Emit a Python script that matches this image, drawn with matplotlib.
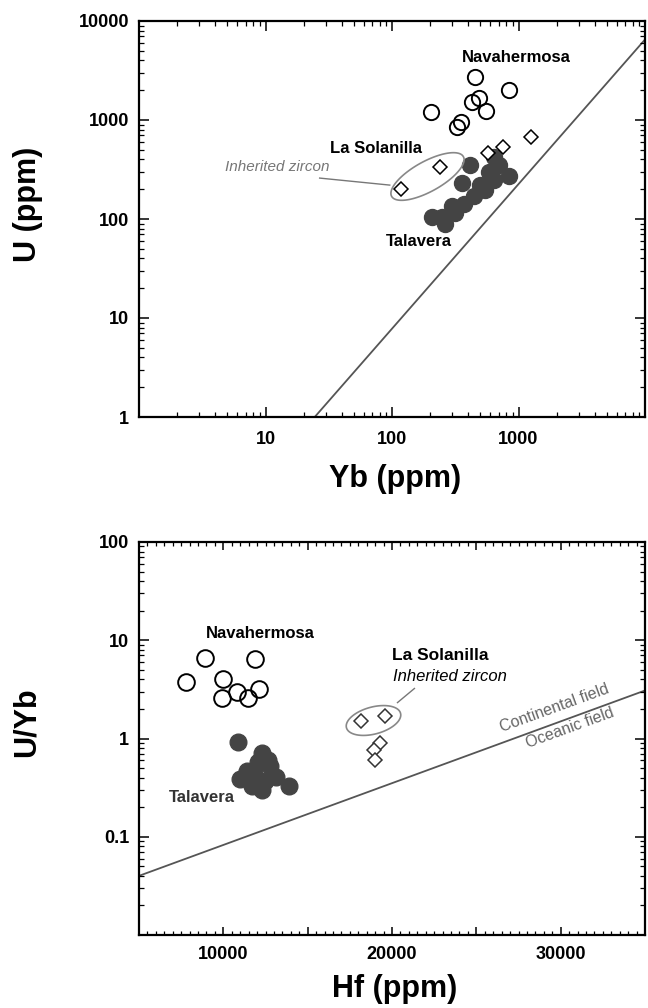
import numpy as np
import matplotlib
matplotlib.use("Agg")
import matplotlib.pyplot as plt
from matplotlib.path import Path
from matplotlib.ticker import FixedLocator, FixedFormatter, LogLocator, MultipleLocator, FuncFormatter, NullFormatter

plt.rcParams["font.family"] = ["Liberation Sans", "DejaVu Sans"]

# ---- top panel: U vs Yb (ppm) ----
nava_yb = [456, 848, 204, 432, 490, 557, 353, 328]
nava_u = [2720, 2010, 1205, 1520, 1667, 1233, 955, 849]

tala_yb = [416, 645, 707, 848, 589, 359, 499, 645, 448, 373, 299, 316, 249, 207, 264, 547]
tala_u = [351, 423, 351, 272, 298, 231, 220, 248, 171, 142, 135, 115, 105, 105, 89, 196]

sola_yb = [1245, 760, 578, 240, 118]
sola_u = [673, 533, 464, 335, 201]

line_yb = [24.5, 10000]
line_u = [1, 6500]

inh_center_top = (190, 272)
leader_top_yb = [26.8, 96]
leader_top_u = [259, 220]

# ---- bottom panel: U/Yb vs Hf (ppm) ----
nava_hf = [8905, 11864, 7781, 9970, 12100, 10800, 9911, 11450]
nava_uyb = [6.67, 6.5, 3.8, 4.0, 3.2, 3.0, 2.6, 2.6]

tala_hf = [10858, 12280, 12040, 12750, 13100, 11390, 10980, 11690, 12280, 12450, 13880, 11800, 12630]
tala_uyb = [0.93, 0.72, 0.57, 0.52, 0.41, 0.47, 0.39, 0.33, 0.30, 0.37, 0.33, 0.47, 0.60]

sola_hf = [18180, 19560, 19260, 18960, 19020]
sola_uyb = [1.52, 1.71, 0.89, 0.76, 0.60]

line_hf = [5000, 35000]
line_uyb = [0.040, 3.08]

inh_center_bot = (18846, 1.56)
leader_bot_hf = [20325, 21330]
leader_bot_uyb = [2.32, 3.23]


def ellipse_marker(long_px, short_px, angle_deg):
    t = np.linspace(0, 2 * np.pi, 120)
    a, b = long_px / 2, short_px / 2
    ang = np.deg2rad(angle_deg)
    x = a * np.cos(t) * np.cos(ang) - b * np.sin(t) * np.sin(ang)
    y = a * np.cos(t) * np.sin(ang) + b * np.sin(t) * np.cos(ang)
    verts = np.column_stack([x, y])
    ms = 2 * np.abs(verts).max() * 0.72
    return Path(verts), ms


def style_axes(ax):
    for s in ax.spines.values():
        s.set_linewidth(1.6)
    ax.tick_params(which="both", direction="in", top=True, right=True)
    ax.tick_params(which="major", length=7, width=1.1, labelsize=13)
    ax.tick_params(which="minor", length=3.5, width=0.9)
    for lab in ax.get_xticklabels() + ax.get_yticklabels():
        lab.set_fontweight("bold")


fig = plt.figure(figsize=(6.48, 10.08), dpi=100)
ax1 = fig.add_axes([139 / 648, 1 - 417 / 1008, 506 / 648, 396 / 1008])
ax2 = fig.add_axes([139 / 648, 1 - 935 / 1008, 506 / 648, 393 / 1008])

dark = "#444444"

# top panel
ax1.set_xscale("log")
ax1.set_yscale("log")
ax1.set_xlim(1, 10000)
ax1.set_ylim(1, 10000)
ax1.plot(line_yb, line_u, color="#555555", lw=1.3, zorder=1)
ax1.plot(tala_yb, tala_u, "o", ms=11.5, color=dark, mec=dark, zorder=2)
ax1.plot(nava_yb, nava_u, "o", ms=11, mfc="none", mec="black", mew=1.4, zorder=3)
ax1.plot(sola_yb, sola_u, "D", ms=7, mfc="white", mec="black", mew=1.1, zorder=4)
p, ms = ellipse_marker(82, 30, 29)
ax1.plot([inh_center_top[0]], [inh_center_top[1]], marker=p, ms=ms, mfc="none",
         mec="#888888", mew=1.2, ls="none", zorder=3)
ax1.plot(leader_top_yb, leader_top_u, color="#777777", lw=1.0)

ax1.xaxis.set_major_locator(FixedLocator([1, 10, 100, 1000, 10000]))
ax1.xaxis.set_major_formatter(FixedFormatter(["", "10", "100", "1000", ""]))
ax1.xaxis.set_minor_locator(LogLocator(base=10, subs=np.arange(2, 10)))
ax1.xaxis.set_minor_formatter(NullFormatter())
ax1.yaxis.set_major_locator(FixedLocator([1, 10, 100, 1000, 10000]))
ax1.yaxis.set_major_formatter(FixedFormatter(["1", "10", "100", "1000", "10000"]))
ax1.yaxis.set_minor_locator(LogLocator(base=10, subs=np.arange(2, 10)))
ax1.yaxis.set_minor_formatter(NullFormatter())
style_axes(ax1)
ax1.tick_params(axis="x", pad=10)
ax1.tick_params(axis="y", pad=7)

ax1.set_xlabel("Yb (ppm)", fontsize=22, fontweight="bold")
ax1.set_ylabel("U (ppm)", fontsize=22, fontweight="bold")
ax1.xaxis.set_label_coords(0.506, -0.119)
ax1.yaxis.set_label_coords(-0.19, 0.538)

ax1.text(0.745, 0.909, "Navahermosa", transform=ax1.transAxes, ha="center", va="center",
         fontsize=12, fontweight="bold")
ax1.text(0.468, 0.679, "La Solanilla", transform=ax1.transAxes, ha="center", va="center",
         fontsize=12, fontweight="bold")
ax1.text(0.273, 0.631, "Inherited zircon", transform=ax1.transAxes, ha="center", va="center",
         fontsize=11, style="italic", color="#777777")
ax1.text(0.553, 0.444, "Talavera", transform=ax1.transAxes, ha="center", va="center",
         fontsize=12, fontweight="bold")

# bottom panel
ax2.set_yscale("log")
ax2.set_xlim(5000, 35000)
ax2.set_ylim(0.01, 100)
ax2.plot(line_hf, line_uyb, color="#555555", lw=1.3, zorder=1)
ax2.plot(tala_hf, tala_uyb, "o", ms=12, color=dark, mec=dark, zorder=2)
ax2.plot(nava_hf, nava_uyb, "o", ms=12, mfc="none", mec="black", mew=1.4, zorder=3)
ax2.plot(sola_hf, sola_uyb, "D", ms=7.5, mfc="white", mec="#333333", mew=1.1, zorder=4)
p, ms = ellipse_marker(56, 27, 15)
ax2.plot([inh_center_bot[0]], [inh_center_bot[1]], marker=p, ms=ms, mfc="none",
         mec="#888888", mew=1.2, ls="none", zorder=3)
ax2.plot(leader_bot_hf, leader_bot_uyb, color="#777777", lw=1.0)

ax2.xaxis.set_major_locator(MultipleLocator(5000))
ax2.xaxis.set_major_formatter(FuncFormatter(lambda v, pos: f"{v:.0f}" if v % 10000 == 0 and 5000 < v < 35000 else ""))
ax2.xaxis.set_minor_locator(MultipleLocator(500))
ax2.yaxis.set_major_locator(FixedLocator([0.01, 0.1, 1, 10, 100]))
ax2.yaxis.set_major_formatter(FixedFormatter(["", "0.1", "1", "10", "100"]))
ax2.yaxis.set_minor_locator(LogLocator(base=10, subs=np.arange(2, 10)))
ax2.yaxis.set_minor_formatter(NullFormatter())
style_axes(ax2)
ax2.tick_params(axis="x", which="major", length=6)
ax2.tick_params(axis="x", which="minor", length=3)
ax2.tick_params(axis="x", pad=8)
ax2.tick_params(axis="y", pad=7)

ax2.set_xlabel("Hf (ppm)", fontsize=22, fontweight="bold")
ax2.set_ylabel("U/Yb", fontsize=22, fontweight="bold")
ax2.xaxis.set_label_coords(0.506, -0.099)
ax2.yaxis.set_label_coords(-0.192, 0.542)

ax2.text(0.239, 0.768, "Navahermosa", transform=ax2.transAxes, ha="center", va="center",
         fontsize=12, fontweight="bold")
ax2.text(0.500, 0.710, "La Solanilla", transform=ax2.transAxes, ha="left", va="center",
         fontsize=12.5, fontweight="bold")
ax2.text(0.502, 0.659, "Inherited zircon", transform=ax2.transAxes, ha="left", va="center",
         fontsize=12, style="italic")
ax2.text(0.125, 0.351, "Talavera", transform=ax2.transAxes, ha="center", va="center",
         fontsize=12, fontweight="bold", color="#333333")
ax2.text(0.822, 0.578, "Continental field", transform=ax2.transAxes, ha="center", va="center",
         fontsize=11.5, rotation=20, color="#666666")
ax2.text(0.852, 0.527, "Oceanic field", transform=ax2.transAxes, ha="center", va="center",
         fontsize=11.5, rotation=20, color="#666666")

fig.savefig("out.png", dpi=100)
